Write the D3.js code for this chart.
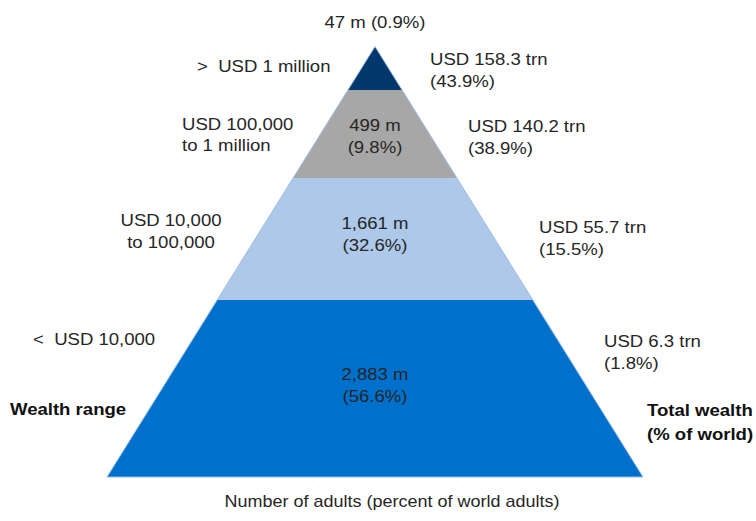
<!DOCTYPE html>
<meta charset="utf-8">
<style>
    body { margin: 0; background: #fff; }
    text {
        font-family: "Liberation Sans", Arial, Helvetica, sans-serif;
        font-size: 16px;
        fill: #262626;
        white-space: pre;
    }
    .bold { font-weight: bold; fill: #111; }
</style>
<svg width="756" height="521"></svg>
<script src="https://cdn.jsdelivr.net/npm/d3@7"></script>
<script>

    // data, top tier first
    var wealthRanges = [[">", "USD 1 million"], ["USD 100,000", "to 1 million"], ["USD 10,000", "to 100,000"], ["<", "USD 10,000"]];
    var adults = [47, 499, 1661, 2883];              // millions
    var adultShares = [0.9, 9.8, 32.6, 56.6];        // % of world adults
    var wealthTotals = [158.3, 140.2, 55.7, 6.3];    // USD trn
    var wealthShares = [43.9, 38.9, 15.5, 1.8];      // % of world wealth
    var tierColors = ["#00386b", "#a7a7a7", "#adc8e9", "#0070cd"];

    var svg = d3.select("svg"),
        cx = 375,
        halfBase = 268,
        sx = 1.16; // the type in the original is set quite wide

    // tier boundaries as fraction of pyramid height (visual, not to scale)
    var bounds = [0, 0.101, 0.3055, 0.589, 1];

    var y = d3.scaleLinear().domain([0, 1]).range([46.5, 477]);
    var w = d3.scaleLinear().domain([0, 1]).range([0, halfBase]);

    var tiers = adults.map(function (a, i) {
        return {t0: bounds[i], t1: bounds[i + 1], color: tierColors[i]};
    });

    var line = d3.line();

    svg.selectAll("path.tier")
        .data(tiers)
        .enter().append("path")
        .attr("class", "tier")
        .attr("fill", function (d) { return d.color; })
        .attr("d", function (d) {
            return line([
                [cx - w(d.t0), y(d.t0)], [cx + w(d.t0), y(d.t0)],
                [cx + w(d.t1), y(d.t1)], [cx - w(d.t1), y(d.t1)]
            ]) + "Z";
        });

    // pale outline round the whole pyramid
    svg.append("path")
        .attr("fill", "none")
        .attr("stroke", "#9dbde4")
        .attr("stroke-width", 1)
        .attr("d", line([[cx, y(0)], [cx + w(1), y(1)], [cx - w(1), y(1)]]) + "Z");

    function label(x, yy, str, anchor, cls, k) {
        svg.append("text")
            .attr("class", cls || null)
            .attr("text-anchor", anchor || "start")
            .attr("transform", "translate(" + x + "," + yy + ") scale(" + (k || sx) + ",1)")
            .text(str);
    }

    var fmt = d3.format(",");

    // centre labels
    label(cx, 28, adults[0] + " m (" + adultShares[0] + "%)", "middle");
    var mid = [null, [131, 153], [229, 251], [380, 402]];
    for (var i = 1; i < 4; i++) {
        label(cx, mid[i][0], fmt(adults[i]) + " m", "middle");
        label(cx, mid[i][1], "(" + adultShares[i] + "%)", "middle");
    }

    // left: wealth ranges
    label(197, 72, wealthRanges[0][0] + "  " + wealthRanges[0][1]);
    label(182, 130, wealthRanges[1][0]);
    label(182, 151, wealthRanges[1][1]);
    label(171, 226, wealthRanges[2][0], "middle");
    label(171, 248, wealthRanges[2][1], "middle");
    label(33, 345, wealthRanges[3][0] + "  " + wealthRanges[3][1]);

    // right: total wealth
    var right = [[430, 65], [468, 132], [539, 233], [604, 347]];
    right.forEach(function (p, i) {
        label(p[0], p[1], "USD " + wealthTotals[i] + " trn");
        label(p[0], p[1] + 22, "(" + wealthShares[i] + "%)");
    });

    label(10, 415, "Wealth range", "start", "bold");
    label(647, 416, "Total wealth", "start", "bold");
    label(647, 440, "(% of world)", "start", "bold");

    label(392, 507, "Number of adults (percent of world adults)", "middle", null, 1.125);

</script>
